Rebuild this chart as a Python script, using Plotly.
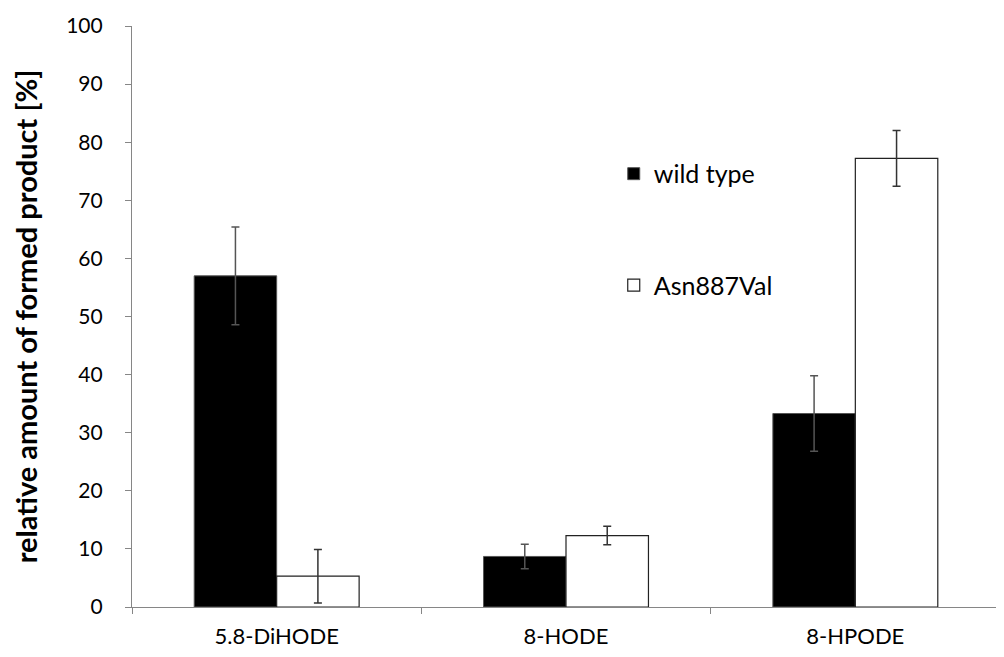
import plotly.graph_objects as go

categories = ["5.8-DiHODE", "8-HODE", "8-HPODE"]
wild_type = [57.0, 8.7, 33.3]
wild_type_err = [8.4, 2.1, 6.5]
asn887val = [5.3, 12.3, 77.2]
asn887val_err = [4.6, 1.6, 4.8]

fig = go.Figure()
fig.add_trace(go.Bar(
    x=categories, y=wild_type, name="wild type",
    marker=dict(color="black", line=dict(color="#555555", width=1)),
    error_y=dict(type="data", array=wild_type_err, color="#555555", thickness=1.5, width=4),
    legendgroup="a",
))
fig.add_trace(go.Bar(
    x=categories, y=asn887val, name="Asn887Val",
    marker=dict(color="white", line=dict(color="#222222", width=1.2)),
    error_y=dict(type="data", array=asn887val_err, color="#333333", thickness=1.5, width=4),
    legendgroup="b",
))

fig.update_layout(
    width=996, height=649,
    margin=dict(l=124, r=4, t=10, b=50),
    paper_bgcolor="white", plot_bgcolor="white",
    barmode="group", bargap=0.43, bargroupgap=0,
    font=dict(family="Lato, Open Sans, sans-serif", size=20, color="black"),
    legend=dict(x=0.555, y=0.785, xanchor="left", yanchor="top",
                font=dict(size=25), tracegroupgap=76, bgcolor="rgba(0,0,0,0)"),
    xaxis=dict(showline=True, linecolor="#868686", linewidth=1.2,
               ticks="outside", tickson="boundaries", ticklen=6, tickcolor="#868686",
               range=[-0.5, 2.5], showgrid=False, tickfont=dict(size=22),
               ticklabelstandoff=9),
    yaxis=dict(range=[0, 100], dtick=10, showline=True, linecolor="#868686", linewidth=1.2,
               ticks="outside", ticklen=6, tickcolor="#868686", showgrid=False, zeroline=False,
               tickfont=dict(size=21), ticklabelstandoff=18, ticklabeloverflow="allow",
               title=dict(text="<b>relative amount of formed product [%]</b>", font=dict(size=29), standoff=26)),
)

fig.write_html("out.html")
